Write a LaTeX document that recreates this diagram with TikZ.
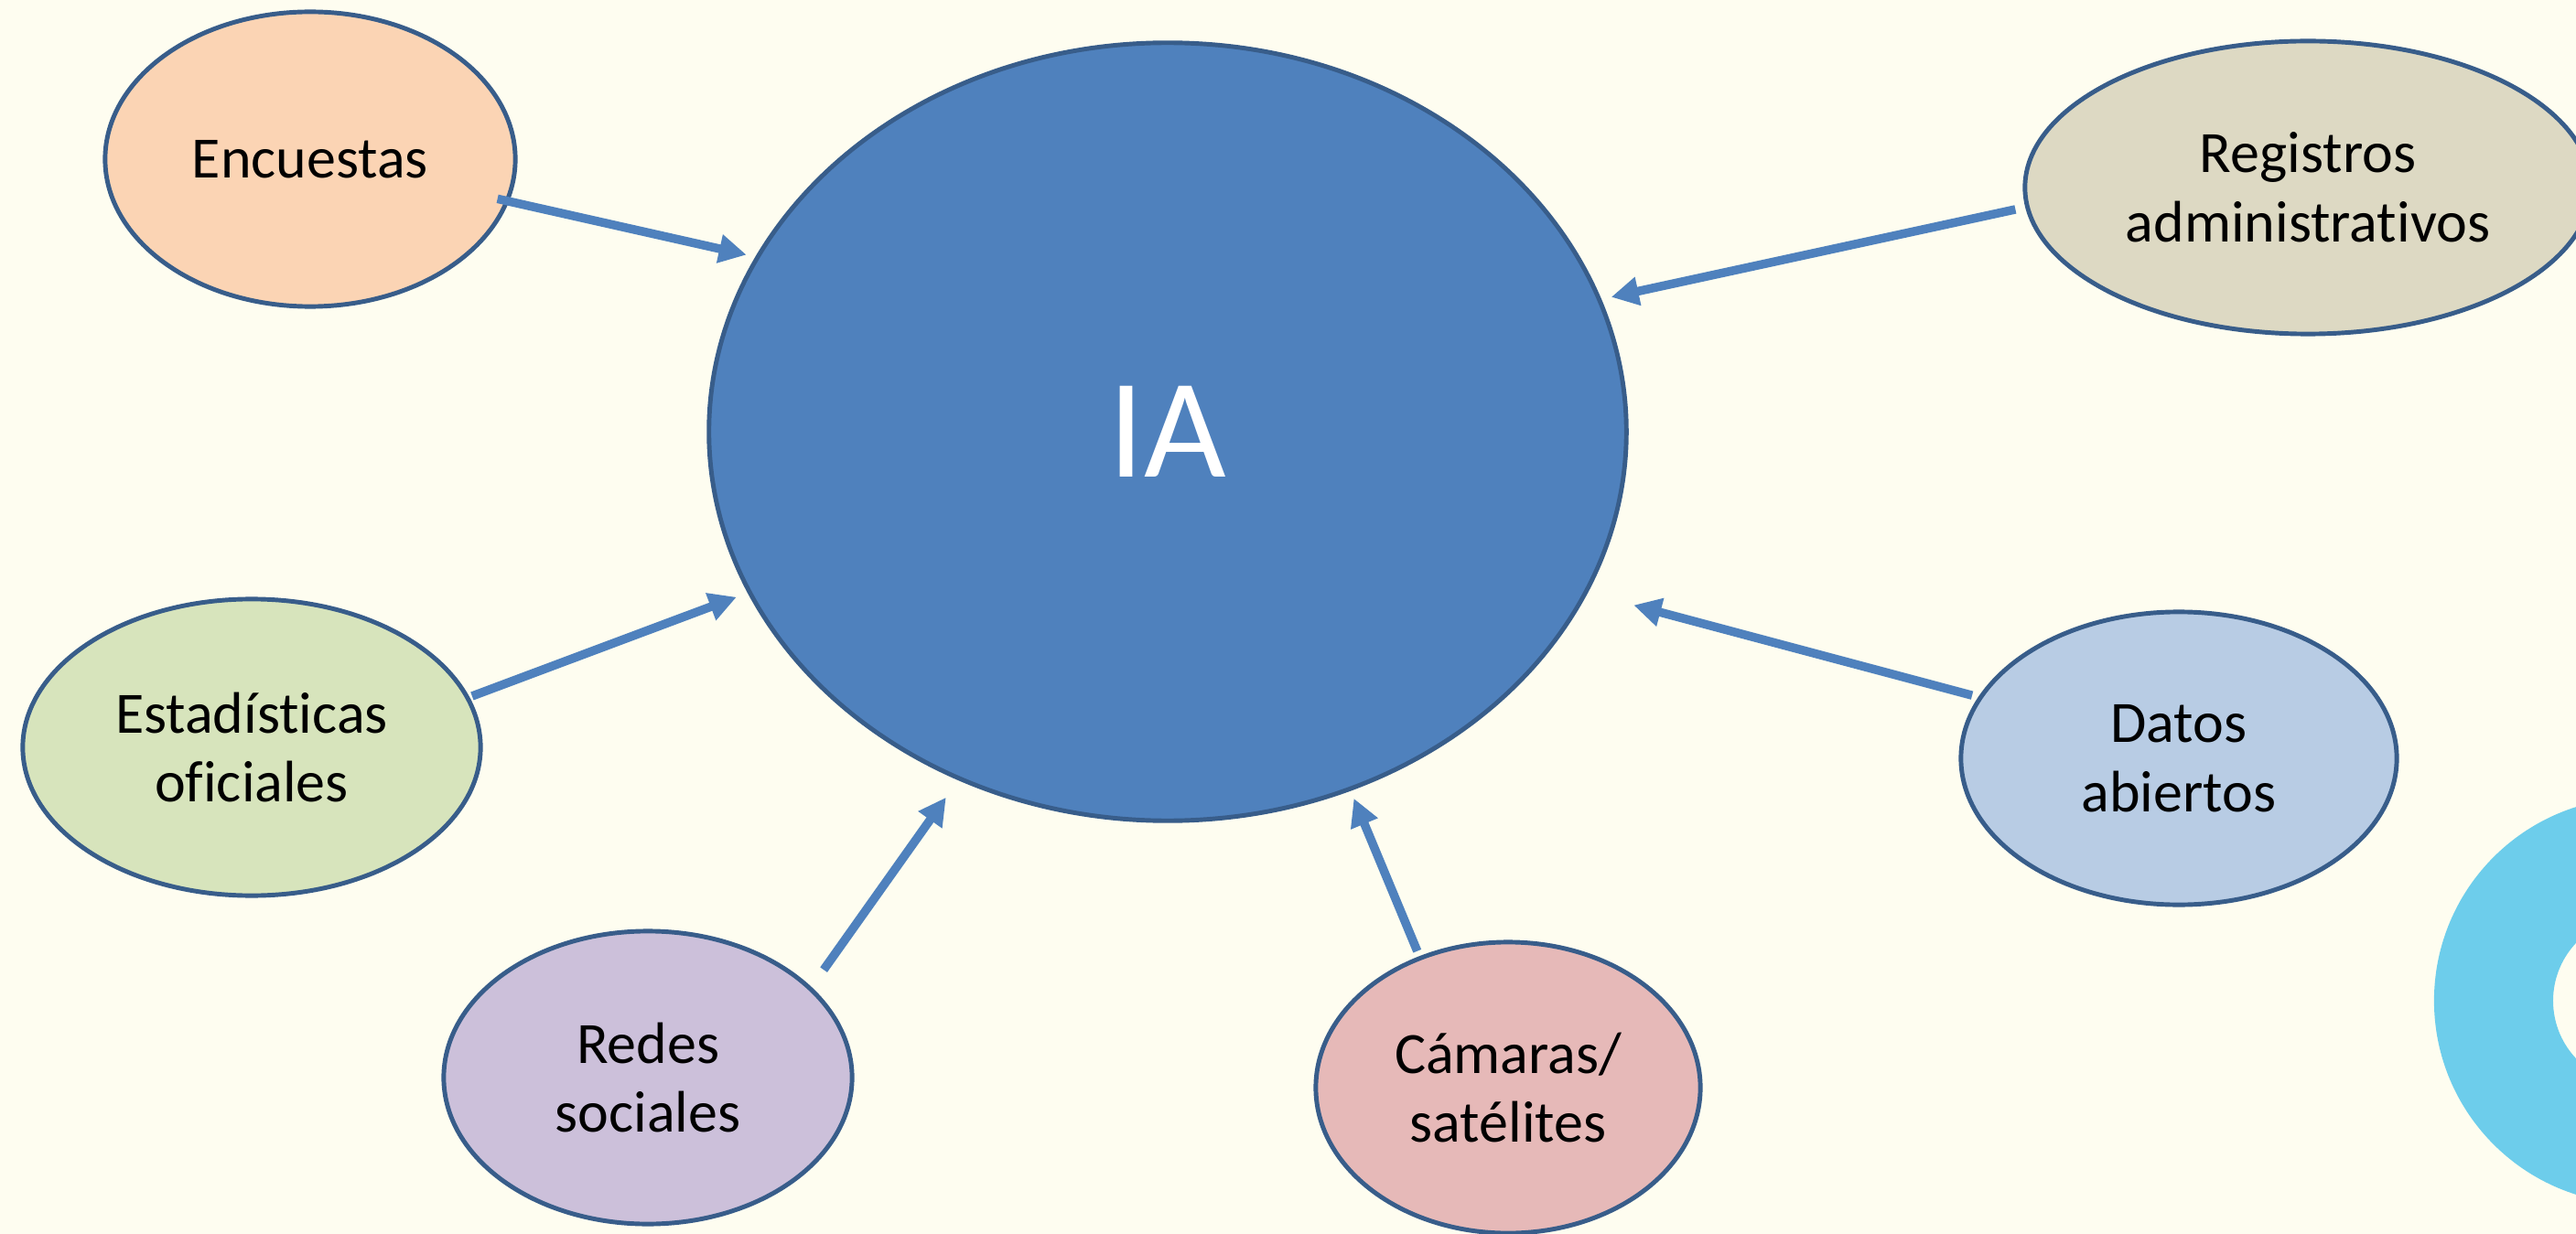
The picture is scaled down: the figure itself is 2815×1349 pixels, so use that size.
\documentclass[tikz,border=0pt]{standalone}
\usepackage{xcolor}
\usepackage{fontspec}
\usepackage{tikz}
\usetikzlibrary{shapes,arrows.meta,positioning}
\setmainfont{Carlito}[Ligatures=NoCommon]
\definecolor{fondo}{HTML}{FEFDF0}
\definecolor{borde}{HTML}{385D8A}
\definecolor{azulia}{HTML}{4F81BD}
\definecolor{anillo}{HTML}{6DCDEB}
\definecolor{durazno}{HTML}{FBD4B4}
\definecolor{arena}{HTML}{DDD9C3}
\definecolor{oliva}{HTML}{D7E4BC}
\definecolor{celeste}{HTML}{B8CCE4}
\definecolor{lila}{HTML}{CCC0DA}
\definecolor{rosa}{HTML}{E6B9B8}

\begin{document}
\begin{tikzpicture}[x=0.01cm,y=-0.01cm,
  fuente/.style={ellipse,draw=borde,line width=1.4pt,align=center,inner sep=0pt,
    font=\fontsize{18.2}{21.6}\selectfont},
  flecha/.style={-{Triangle[length=0.3cm,width=0.3cm]},line width=2.7pt,draw=azulia}]
  % Page
  \fill[fondo] (0,0) rectangle (2815,1349);
  \useasboundingbox (0,0) rectangle (2815,1349);
  % Ring at the right edge
  \fill[anillo,even odd rule] (2882,1094) circle (2.22cm) (2882,1094) circle (0.92cm);
  % Centre
  \node[ellipse,draw=borde,line width=1.4pt,fill=azulia,minimum width=10.02cm,minimum height=8.5cm,
    text=white,font=\fontsize{44}{50}\selectfont] (ia) at (1276,472) {IA};
  % Sources
  \node[fuente,fill=durazno,minimum width=4.48cm,minimum height=3.22cm] (enc) at (339,174) {Encuestas};
  \node[fuente,fill=arena,minimum width=6.18cm,minimum height=3.2cm] (reg) at (2522,205) {Registros\\administrativos};
  \node[fuente,fill=oliva,minimum width=5.0cm,minimum height=3.24cm] (est) at (275,817) {Estadísticas\\oficiales};
  \node[fuente,fill=celeste,minimum width=4.76cm,minimum height=3.2cm] (dat) at (2381,829) {Datos\\abiertos};
  \node[fuente,fill=lila,minimum width=4.46cm,minimum height=3.2cm] (red) at (708,1178) {Redes\\sociales};
  \node[fuente,fill=rosa,minimum width=4.2cm,minimum height=3.18cm] (cam) at (1648,1189) {Cámaras/\\satélites};
  % Arrows into IA
  \foreach \src/\a/\b/\s/\e in {enc/-12.9/157.7/-0.13/0.10, reg/184.1/17.6/0.11/0.11,
      est/13.2/201.9/0.03/0.13, dat/163.7/-21.6/0.07/0.52,
      red/29.6/239.5/0.23/0.23, cam/124.4/-63.95/0.06/0.09}{
    \draw[flecha,shorten <=\s cm,shorten >=\e cm] (\src.\a) -- (ia.\b);
  }
\end{tikzpicture}
\end{document}
